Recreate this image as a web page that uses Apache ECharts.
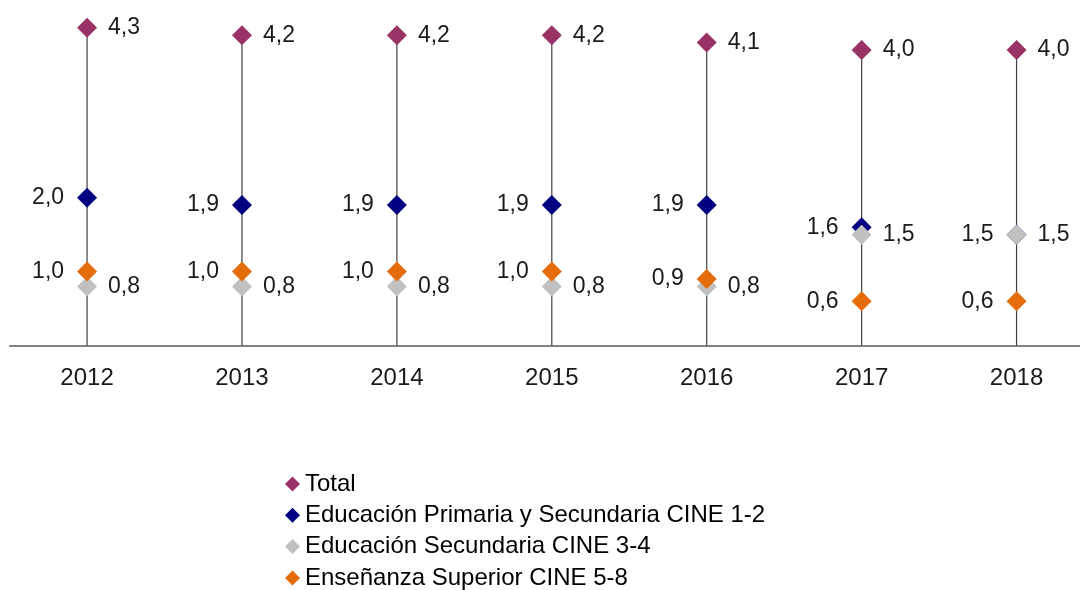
<!DOCTYPE html>
<html>
<head>
<meta charset="utf-8">
<script src="https://cdn.jsdelivr.net/npm/echarts@6/dist/echarts.min.js"></script>
<style>html,body{margin:0;padding:0;background:#fff;overflow:hidden;width:1080px;height:590px}#c{width:1094px;height:590px}</style>
</head>
<body>
<div id="c"></div>
<script>
const categories = ['2012','2013','2014','2015','2016','2017','2018'];
const total = [4.3, 4.2, 4.2, 4.2, 4.1, 4.0, 4.0];
const primaria = [2.0, 1.9, 1.9, 1.9, 1.9, 1.6, 1.5];
const secundaria = [0.8, 0.8, 0.8, 0.8, 0.8, 1.5, 1.5];
const superior = [1.0, 1.0, 1.0, 1.0, 0.9, 0.6, 0.6];
const names = ['Total','Educación Primaria y Secundaria CINE 1-2','Educación Secundaria CINE 3-4','Enseñanza Superior CINE 5-8'];

const FONT = '"Liberation Sans", Arial, sans-serif';
const fmt = p => p.value.toFixed(1).replace('.', ',');
function lab(pos, dist) {
  return { show: true, position: pos, distance: dist, formatter: fmt, fontFamily: FONT, fontSize: 23, color: '#1a1a1a' };
}
function sc(name, data, color, pos, dist, z) {
  return { name, type: 'scatter', data, symbol: 'diamond', symbolSize: 20, z,
    itemStyle: { color, opacity: 1 }, label: lab(pos, dist) };
}
const chart = echarts.init(document.getElementById('c'));
chart.setOption({
  animation: false,
  grid: { left: 9.6, right: 0, top: 13, bottom: 244.5 },
  xAxis: {
    type: 'category', data: categories,
    axisLine: { lineStyle: { color: '#595959', width: 1.5 } },
    axisTick: { show: false },
    axisLabel: { fontFamily: FONT, fontSize: 24, color: '#1a1a1a', margin: 21 }
  },
  yAxis: { type: 'value', min: 0, max: 4.5, show: false, splitLine: { show: false } },
  legend: {
    data: names, orient: 'vertical', left: 285, top: 472, height: 140, padding: 0,
    itemWidth: 15, itemHeight: 15, itemGap: 7.3,
    textStyle: { fontFamily: FONT, fontSize: 24, color: '#000' }
  },
  series: [
    { name: 'line', type: 'bar', data: total, barWidth: 1.2, itemStyle: { color: '#404040' }, z: 1, silent: true },
    sc(names[0], total, '#993366', 'right', 11, 5),
    sc(names[1], primaria, '#000080', 'left', 13, 6),
    sc(names[2], secundaria, '#C0C0C0', 'right', 11, 7),
    sc(names[3], superior, '#E46C0A', 'left', 13, 8)
  ]
});
</script>
</body>
</html>
